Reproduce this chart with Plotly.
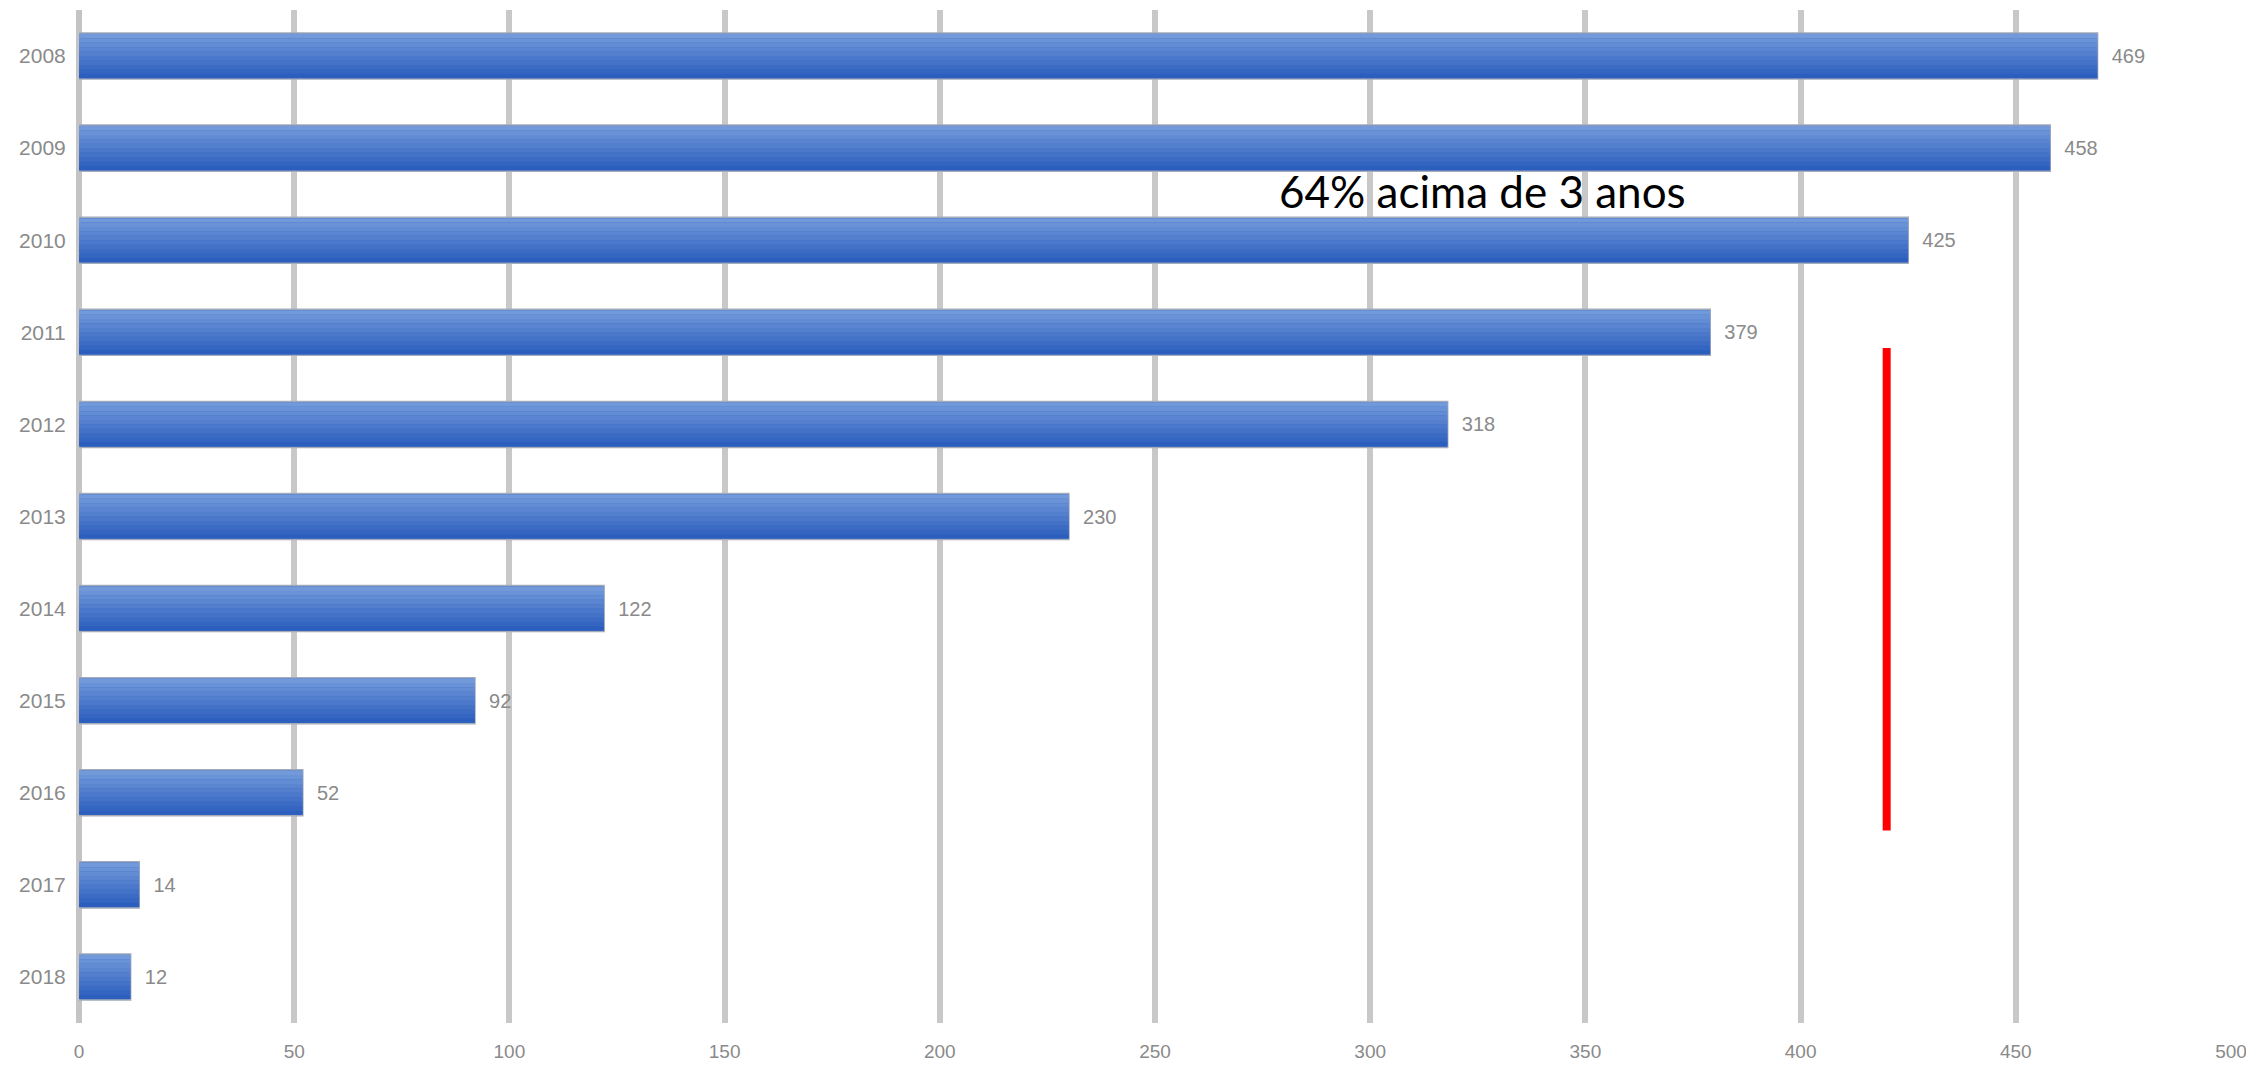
import plotly.graph_objects as go

years = ["2008", "2009", "2010", "2011", "2012", "2013", "2014", "2015", "2016", "2017", "2018"]
values = [469, 458, 425, 379, 318, 230, 122, 92, 52, 14, 12]
x_ticks = [0, 50, 100, 150, 200, 250, 300, 350, 400, 450, 500]
annotation_text = "64% acima de 3 anos"
marker_x = 420
marker_y = [3.17, 8.41]

fig = go.Figure()

# base bar with border
bar_w = 0.5
fig.add_trace(go.Bar(
    x=values, y=years, orientation="h", width=bar_w, offset=-bar_w / 2,
    marker=dict(color="#3a6cc6", line=dict(color="#a3abbb", width=1.5)),
    hoverinfo="skip", showlegend=False,
))

# gradient bands (light top -> dark bottom)
top = (0x72, 0x99, 0xda)
bot = (0x2c, 0x5e, 0xbd)
n = 10
inner = bar_w - 0.02
for i in range(n):
    t = i / (n - 1)
    c = tuple(int(round(top[k] + (bot[k] - top[k]) * t)) for k in range(3))
    fig.add_trace(go.Bar(
        x=values, y=years, orientation="h", width=inner / n,
        offset=-inner / 2 + i * inner / n,
        marker=dict(color="rgb(%d,%d,%d)" % c, line=dict(width=0)),
        hoverinfo="skip", showlegend=False,
    ))

# value labels
fig.add_trace(go.Bar(
    x=values, y=years, orientation="h", width=bar_w, offset=-bar_w / 2,
    marker=dict(color="rgba(0,0,0,0)", line=dict(width=0)),
    text=values, texttemplate="\u00a0\u00a0%{x}", textposition="outside",
    textfont=dict(family="Liberation Sans", size=20, color="#8a8a8a"),
    cliponaxis=False, hoverinfo="skip", showlegend=False,
))

fig.add_shape(type="line", xref="x", yref="y", x0=marker_x, x1=marker_x,
              y0=marker_y[0], y1=marker_y[1], line=dict(color="#ff0000", width=8))

fig.add_annotation(x=326.0, y=1.47, xref="x", yref="y", text=annotation_text,
                   showarrow=False, font=dict(family="Lato", size=44, color="#000000"))

# page body has an 8px margin: size the figure to fit the window
fig.update_layout(
    width=2246, height=1058,
    margin=dict(l=71, r=23, t=2, b=43),
    paper_bgcolor="white", plot_bgcolor="white",
    barmode="overlay",
    xaxis=dict(range=[0, 500], tickvals=x_ticks, showgrid=True, gridcolor="#c8c8c8",
               gridwidth=6, zeroline=True, zerolinecolor="#c4c4c4", zerolinewidth=6,
               showline=False, automargin=False,
               ticks="outside", ticklen=11, tickcolor="rgba(0,0,0,0)",
               tickfont=dict(family="Liberation Sans", size=19, color="#8a8a8a")),
    yaxis=dict(type="category", range=[10.5, -0.5], showgrid=False, zeroline=False,
               showline=False, automargin=False, ticks="outside", ticklen=8,
               tickcolor="rgba(0,0,0,0)",
               tickfont=dict(family="Liberation Sans", size=21, color="#8a8a8a")),
)

fig.write_html("out.html")
